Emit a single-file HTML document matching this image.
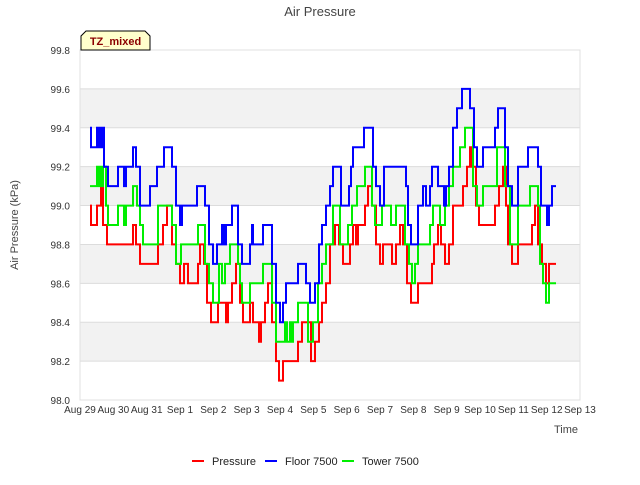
<!DOCTYPE html>
<html><head><meta charset="utf-8"><style>
body{margin:0;background:#fff;font-family:"Liberation Sans","DejaVu Sans",sans-serif}
svg text{font-family:"Liberation Sans","DejaVu Sans",sans-serif}
</style></head><body>
<svg id="c" width="640" height="480" xmlns="http://www.w3.org/2000/svg">
<rect x="80" y="50" width="500" height="350" fill="#fff"/>
<g id="bands"></g><g id="grid"></g><g id="series"></g><g id="axes"></g>
<rect x="80" y="50" width="500" height="350" fill="none" stroke="#e0e0e0"/>
<text x="320" y="16" text-anchor="middle" font-size="13" fill="#444">Air Pressure</text>
<text transform="translate(18,225) rotate(-90)" text-anchor="middle" font-size="11" fill="#444">Air Pressure (kPa)</text>
<text x="566" y="433" text-anchor="middle" font-size="11" fill="#444">Time</text>
<g><path d="M81,50 L81,36 L86,31 L145,31 L150,36 L150,50 Z" fill="#ffffcc" stroke="#000" stroke-width="1"/>
<text x="115.5" y="45" text-anchor="middle" font-size="11" font-weight="bold" fill="#8b0000">TZ_mixed</text></g>
<g id="legend"></g>
</svg>
<script>
const yTicks=[98.0,98.2,98.4,98.6,98.8,99.0,99.2,99.4,99.6,99.8];
const xLabels=["Aug 29","Aug 30","Aug 31","Sep 1","Sep 2","Sep 3","Sep 4","Sep 5","Sep 6","Sep 7","Sep 8","Sep 9","Sep 10","Sep 11","Sep 12","Sep 13"];
const seriesNames=["Pressure","Floor 7500","Tower 7500"];
const seriesColors=["#ff0000","#0000ff","#00ee00"];
const pT=[0.30,0.33,0.51,0.63,0.69,0.81,1.59,1.68,1.80,2.34,2.49,2.61,2.76,2.88,3.00,3.12,3.24,3.54,3.60,3.72,3.81,3.93,4.14,4.38,4.44,4.56,4.68,4.80,4.89,5.10,5.19,5.37,5.43,5.55,5.64,5.76,5.88,5.97,6.09,6.54,6.66,6.93,7.05,7.17,7.26,7.38,7.50,7.65,7.77,7.89,8.10,8.19,8.28,8.34,8.55,8.64,8.76,8.88,9.00,9.09,9.36,9.48,9.60,9.69,9.81,9.93,10.14,10.56,10.62,10.74,10.83,10.95,11.07,11.19,11.49,11.61,11.70,11.76,11.88,11.97,12.45,12.57,12.69,12.78,12.84,12.96,13.14,13.56,13.65,13.74,13.86,13.98,14.07,14.28];
const pV=[99.0,98.9,99.0,99.1,98.9,98.8,98.9,98.8,98.7,98.8,98.9,99.0,98.8,98.7,98.6,98.7,98.6,98.7,98.8,98.7,98.5,98.4,98.5,98.4,98.5,98.6,98.7,98.5,98.4,98.5,98.4,98.3,98.4,98.5,98.6,98.4,98.2,98.1,98.2,98.3,98.4,98.2,98.3,98.4,98.5,98.6,98.8,98.9,98.8,98.7,98.8,98.9,98.8,98.9,99.0,99.1,99.0,98.8,98.7,98.8,98.7,98.8,98.9,98.8,98.6,98.5,98.6,98.7,98.8,98.9,98.8,98.7,98.8,99.0,99.1,99.2,99.3,99.2,99.0,98.9,99.0,99.1,99.2,99.0,98.8,98.7,98.8,98.9,99.0,98.8,98.7,98.6,98.7,98.7];
const fT=[0.30,0.33,0.51,0.54,0.60,0.63,0.66,0.72,0.84,1.14,1.32,1.38,1.59,1.68,1.80,2.10,2.31,2.52,2.76,2.88,3.00,3.06,3.51,3.75,3.87,3.99,4.11,4.26,4.32,4.38,4.56,4.74,4.86,5.10,5.16,5.19,5.49,5.76,5.88,6.00,6.09,6.18,6.54,6.78,6.90,7.05,7.17,7.26,7.38,7.50,7.59,7.83,8.07,8.13,8.19,8.52,8.79,8.88,9.00,9.12,9.78,9.84,9.93,10.14,10.29,10.38,10.50,10.56,10.74,10.92,10.98,11.07,11.19,11.31,11.46,11.70,11.82,11.91,12.09,12.45,12.54,12.75,12.84,12.96,13.14,13.44,13.74,13.83,14.01,14.07,14.16,14.28];
const fV=[99.4,99.3,99.4,99.3,99.4,99.3,99.4,99.2,99.1,99.2,99.1,99.2,99.3,99.2,99.0,99.1,99.2,99.3,99.2,99.0,98.9,99.0,99.1,99.0,98.8,98.7,98.8,98.9,98.8,98.9,99.0,98.8,98.7,98.8,98.9,98.8,98.9,98.7,98.5,98.4,98.5,98.6,98.7,98.6,98.5,98.6,98.8,98.9,99.0,99.1,99.2,99.0,99.1,99.2,99.3,99.4,99.2,99.1,99.0,99.2,99.1,98.9,98.8,99.0,99.1,99.0,99.1,99.2,99.1,99.0,99.1,99.2,99.4,99.5,99.6,99.5,99.3,99.2,99.3,99.4,99.5,99.3,99.1,99.0,99.2,99.3,99.2,99.0,98.9,99.0,99.1,99.1];
const gT=[0.30,0.51,0.57,0.63,0.66,0.69,0.78,0.84,1.14,1.32,1.38,1.59,1.71,1.80,1.89,2.34,2.76,2.88,3.03,3.54,3.75,3.87,3.99,4.17,4.26,4.35,4.50,4.74,4.80,4.86,5.10,5.49,5.76,5.88,6.15,6.21,6.30,6.36,6.39,6.54,6.84,6.99,7.14,7.26,7.38,7.59,7.80,8.04,8.16,8.31,8.55,8.76,8.85,9.06,9.33,9.48,9.75,9.87,9.96,10.05,10.14,10.50,10.59,10.80,10.95,11.07,11.19,11.40,11.55,11.79,11.91,12.09,12.51,12.75,12.90,13.14,13.50,13.74,13.80,13.89,13.98,14.07,14.28];
const gV=[99.1,99.2,99.1,99.2,99.1,99.2,99.0,98.9,99.0,98.9,99.0,99.1,99.0,98.9,98.8,99.0,98.9,98.7,98.8,98.9,98.7,98.6,98.5,98.7,98.6,98.7,98.8,98.7,98.6,98.5,98.6,98.7,98.5,98.3,98.4,98.3,98.4,98.3,98.4,98.5,98.3,98.4,98.6,98.7,98.8,99.0,98.8,98.9,99.0,99.1,99.2,99.0,98.9,99.0,98.9,99.0,98.8,98.7,98.6,98.7,98.8,98.9,99.0,98.9,99.0,99.1,99.2,99.3,99.4,99.1,99.0,99.1,99.3,99.1,98.8,99.0,99.1,99.0,98.7,98.6,98.5,98.6,98.6];
const X0=80,X1=580,Y0=400,Y1=50;
const xs=d=>X0+d*(X1-X0)/15;
const ys=v=>Y0-(v-98.0)*(Y0-Y1)/1.8;
const NS="http://www.w3.org/2000/svg";
function mk(t,p){const e=document.createElementNS(NS,t);for(const k in p)e.setAttribute(k,p[k]);return e;}
const bands=document.getElementById('bands'),grid=document.getElementById('grid'),axes=document.getElementById('axes'),ser=document.getElementById('series'),leg=document.getElementById('legend');
for(let i=0;i<yTicks.length-1;i++){if(i%2===1){const r=mk('rect',{x:X0,y:ys(yTicks[i+1]),width:X1-X0,height:ys(yTicks[i])-ys(yTicks[i+1]),fill:'#f2f2f2'});

bands.appendChild(r);}}
yTicks.forEach(v=>{const l=mk('line',{x1:X0,x2:X1,y1:ys(v),y2:ys(v),stroke:'#dcdcdc','stroke-width':1});

grid.appendChild(l);
const t=mk('text',{x:X0-10,y:ys(v)+4,'text-anchor':'end','font-size':10,fill:'#333'});t.textContent=v.toFixed(1);

axes.appendChild(t);});
xLabels.forEach((s,i)=>{const t=mk('text',{x:xs(i),y:413,'text-anchor':'middle','font-size':10,fill:'#333'});t.textContent=s;

axes.appendChild(t);});
const ax=mk('line',{x1:X0,x2:X0,y1:Y1,y2:Y0,stroke:'#ccc'});

axes.appendChild(ax);
const allT=[pT,fT,gT],allV=[pV,fV,gV];
[0,2,1].forEach(k=>{const T=allT[k],V=allV[k];let d='M'+xs(T[0]).toFixed(1)+','+ys(V[0]).toFixed(1);
for(let i=1;i<T.length;i++){d+=' H'+xs(T[i]).toFixed(1)+' V'+ys(V[i]).toFixed(1);}
const p=mk('path',{d:d,fill:'none',stroke:seriesColors[k],'stroke-width':2,'stroke-linejoin':'miter'});

ser.appendChild(p);});
const lx=[192,265,342];
seriesNames.forEach((n,i)=>{const g=mk('g',{});


g.appendChild(mk('line',{x1:lx[i],x2:lx[i]+12,y1:461,y2:461,stroke:seriesColors[i],'stroke-width':2}));
const t=mk('text',{x:lx[i]+20,y:465,'font-size':11,fill:'#222'});t.textContent=n;g.appendChild(t);leg.appendChild(g);});
</script>
</body></html>
